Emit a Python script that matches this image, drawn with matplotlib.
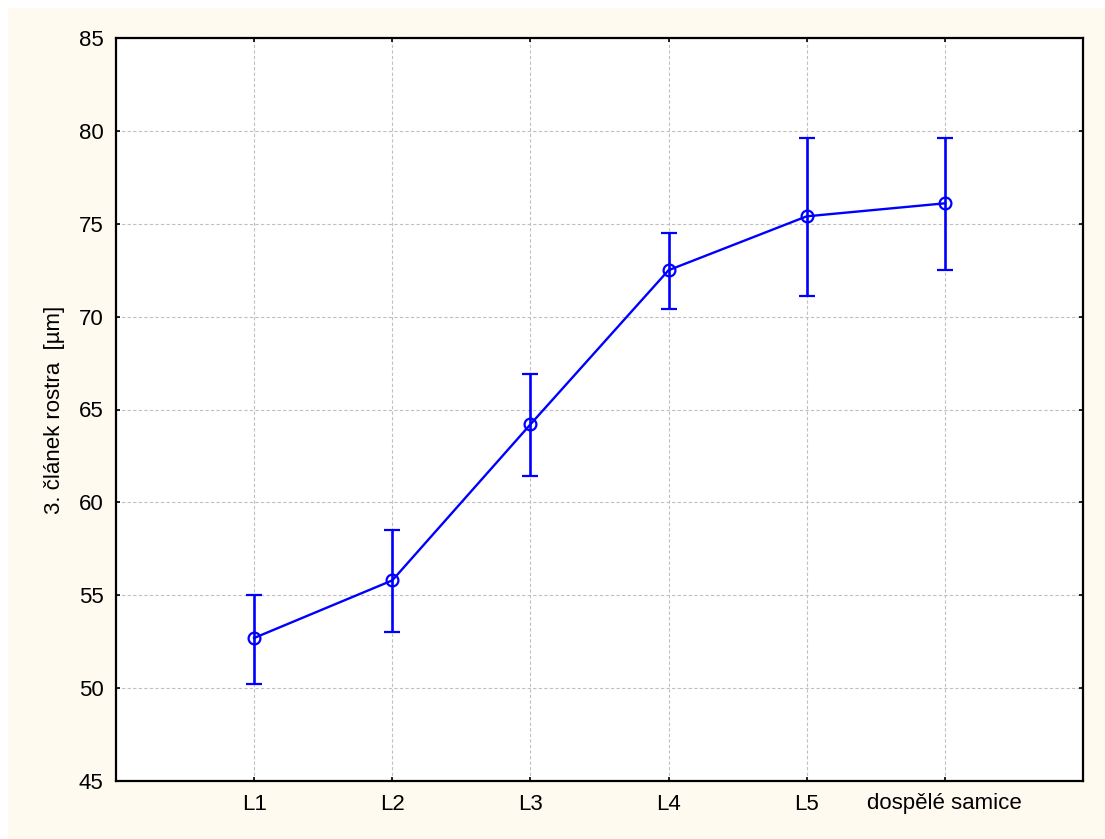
import matplotlib
matplotlib.use('Agg')
import matplotlib.pyplot as plt
from matplotlib.patches import Rectangle

# data
stages = ['L1', 'L2', 'L3', 'L4', 'L5', 'dospělé samice']
means = [52.7, 55.8, 64.2, 72.5, 75.4, 76.1]
upper = [55.0, 58.5, 66.9, 74.5, 79.6, 79.6]
lower = [50.2, 53.0, 61.4, 70.4, 71.1, 72.5]
yticks = [45, 50, 55, 60, 65, 70, 75, 80, 85]

plt.rcParams['font.family'] = ['Liberation Sans', 'DejaVu Sans']

fig = plt.figure(figsize=(11.05, 8.39), dpi=100, facecolor='white')
# cream background panel (white strip at top and left)
fig.patches.append(Rectangle((8 / 1105, 0), 1, 1 - 8 / 839, transform=fig.transFigure,
                             facecolor='#fefaf0', edgecolor='none', zorder=-10))

ax = fig.add_axes([116 / 1105, 1 - 781 / 839, (1083 - 116) / 1105, (781 - 38) / 839])
ax.set_facecolor('white')

x = list(range(1, len(stages) + 1))
yerr = [[m - lo for m, lo in zip(means, lower)], [u - m for m, u in zip(means, upper)]]
ax.errorbar(x, means, yerr=yerr, color='#0000ff', lw=1.7, elinewidth=1.9,
            capsize=6, capthick=1.9, marker='o', ms=8.5, mfc='none', mec='#0000ff',
            mew=1.6, zorder=3)

ax.set_xlim(0, 7)
ax.set_ylim(45, 85)
ax.set_xticks(x)
ax.set_xticklabels(stages)
ax.set_yticks(yticks)
ax.tick_params(direction='in', length=3, width=1.2, labelsize=16, pad=9,
               top=True, right=True, colors='black')
ax.grid(True, color='#c0c0c0', linestyle=(0, (3, 2)), linewidth=0.8)
ax.set_axisbelow(True)
for s in ax.spines.values():
    s.set_linewidth(1.6)
    s.set_color('black')

ax.set_ylabel('3. článek rostra  [µm]', fontsize=16, labelpad=10)

fig.savefig('out.png', dpi=100, facecolor=fig.get_facecolor())
